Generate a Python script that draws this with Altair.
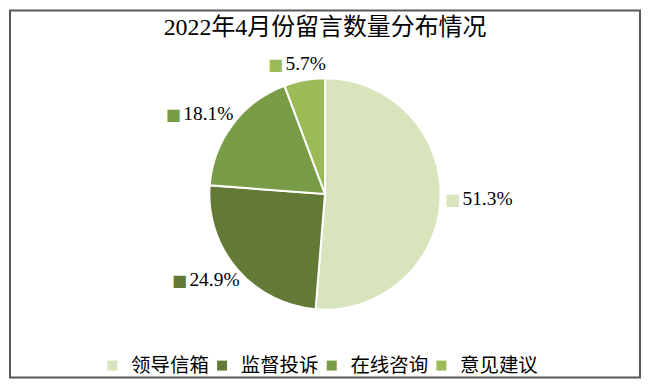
import altair as alt
import pandas as pd

categories = ["领导信箱", "监督投诉", "在线咨询", "意见建议"]
values = [51.3, 24.9, 18.1, 5.7]
labels = ["51.3%", "24.9%", "18.1%", "5.7%"]
colors = ["#D8E4BC", "#627A36", "#789D46", "#9BBB59"]

df = pd.DataFrame({
    "cat": categories,
    "value": values,
    "label": labels,
    "idx": list(range(len(categories))),
})

FONT = "Liberation Serif, Noto Sans CJK SC"
W, H = 632, 368
R = 123          # radius at which the data labels are anchored
LFS = 19.5       # label font size

cscale = alt.Scale(domain=categories, range=colors)

color = alt.Color(
    "cat:N",
    scale=cscale,
    sort=categories,
    legend=alt.Legend(
        title=None,
        orient="none",
        direction="horizontal",
        legendX=93,
        legendY=346,
        symbolType="square",
        symbolSize=100,
        symbolStrokeWidth=0,
        labelFontSize=19.5,
        labelFont=FONT,
        labelColor="#000000",
        labelOffset=9,
        columnPadding=3,
        columns=4,
    ),
)

pie = alt.Chart(df).mark_arc(outerRadius=116, stroke="white", strokeWidth=2).encode(
    theta=alt.Theta("value:Q", stack=True),
    order=alt.Order("idx:Q"),
    color=color,
)

# label layout: anchor on a circle at the slice's mid-angle, block pushed outward
lab = (
    alt.Chart(df)
    .transform_joinaggregate(total="sum(value)")
    .transform_window(cum="sum(value)", sort=[alt.SortField("idx")], frame=[None, 0])
    .transform_calculate(ang="2 * PI * (datum.cum - datum.value / 2) / datum.total")
    .transform_calculate(
        tw=f"{LFS * 0.5} * (length(datum.label) - 2) + {LFS * 1.08}",
        px=f"{W / 2} + {R} * sin(datum.ang)",
        py=f"{H / 2} - {R} * cos(datum.ang)",
    )
    .transform_calculate(
        left="datum.px - (15 + datum.tw) * (1 - sin(datum.ang)) / 2",
        cy="datum.py - 10 * cos(datum.ang)",
    )
    .transform_calculate(sqx="datum.left + 5", txx="datum.left + 15")
)

squares = lab.mark_text(align="center", baseline="middle", dy=1, fontSize=16, text="■",
                        font="DejaVu Sans").encode(
    x=alt.X("sqx:Q", scale=None),
    y=alt.Y("cy:Q", scale=None),
    color=alt.Color("cat:N", scale=cscale, legend=None),
)

texts = lab.mark_text(align="left", baseline="middle", fontSize=LFS, font=FONT,
                      color="#000000").encode(
    x=alt.X("txx:Q", scale=None),
    y=alt.Y("cy:Q", scale=None),
    text="label:N",
)

frame = alt.Chart(pd.DataFrame({"f": [0]})).mark_rect(
    fill=None, stroke="#595959", strokeWidth=2
).encode(
    x=alt.value(0), x2=alt.value(W), y=alt.value(0), y2=alt.value(H)
)

chart = (
    alt.layer(frame, pie, squares, texts)
    .properties(
        width=W,
        height=H,
        padding=1,
        title=alt.TitleParams(
            "2022年4月份留言数量分布情况",
            fontSize=24,
            font=FONT,
            fontWeight="normal",
            color="#000000",
            anchor="middle",
            dy=34,
        ),
    )
    .configure_view(stroke=None)
)

chart.save("out.html", embed_options={"renderer": "svg", "actions": False})
